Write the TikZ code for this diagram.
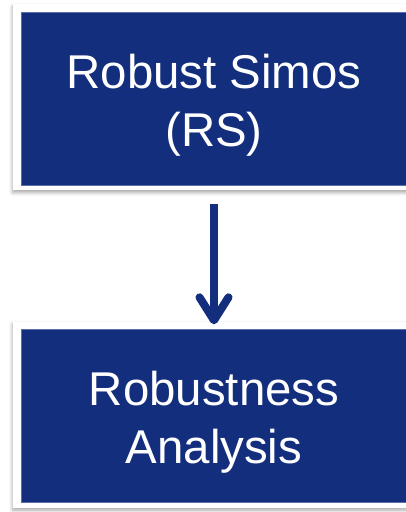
\documentclass[tikz,border=0pt]{standalone}
\usepackage{fontspec}
\setmainfont{Liberation Sans}
\usetikzlibrary{arrows.meta,shadows.blur}
\definecolor{boxblue}{RGB}{19,46,125}
\definecolor{edgeblue}{RGB}{90,110,170}
\begin{document}
\begin{tikzpicture}[x=1pt,y=-1pt,
  card/.style={rectangle,fill=white,minimum width=402pt,minimum height=186pt,inner sep=0pt,
    blur shadow={shadow xshift=-0.3pt,shadow yshift=-2.5pt,shadow blur radius=3.5pt,shadow opacity=35}},
  bluebox/.style={rectangle,fill=boxblue,draw=edgeblue,line width=0.8pt,minimum width=386pt,minimum height=173pt,inner sep=0pt},
  label/.style={text=white,font=\fontsize{47.4}{58}\selectfont,align=center,inner sep=0pt},
  arr/.style={draw=boxblue,line width=8pt,-{Straight Barb[length=23pt,width=29pt,round]}}
]
\useasboundingbox (0,0) rectangle (406,512);
\node[card] (topcard) at (214,97) {};
\node[bluebox] (topbox) at (214,98.5) {};
\node[label] (toptext) at (214,105) {Robust Simos\\(RS)};
\node[card] (botcard) at (214,414.5) {};
\node[bluebox] (botbox) at (214,415.5) {};
\node[label] (bottext) at (214,422.5) {Robustness\\Analysis};
\draw[arr,shorten <=14pt,shorten >=-3pt] (topcard.south) -- (botcard.north);
\end{tikzpicture}
\end{document}
